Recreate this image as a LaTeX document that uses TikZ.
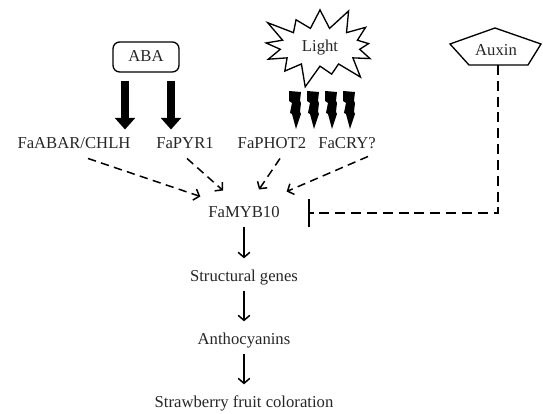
\documentclass[tikz,border=0pt]{standalone}
\usepackage{fontspec}
\setmainfont{Liberation Serif}
\usetikzlibrary{calc, positioning}
\usetikzlibrary{arrows.meta}
\usetikzlibrary{shapes.symbols}

\tikzset{
  gene/.style={font=\fontsize{10}{12}\selectfont, text=black!85,
    inner sep=1pt, text height=7pt, text depth=2pt},
  dasharrow/.style={line width=0.9pt, dash pattern=on 5pt off 3.2pt,
    -{Straight Barb[length=3pt,width=7pt,line width=0.9pt]}},
  steparrow/.style={line width=0.9pt, shorten <=2.5pt, shorten >=5.5pt,
    -{Straight Barb[length=3pt,width=7pt,line width=0.9pt]}},
  thickarrow/.style={line width=4.5pt, -{Triangle[width=12pt,length=7pt]}},
  inhibit/.style={line width=0.9pt, dash pattern=on 6pt off 3.5pt,
    -{Bar[width=17pt,line width=1.5pt]}},
  bolt/.pic={
    \fill (-6,0) -- (6,1) -- (5,10) -- (6,12) -- (5,21) -- (6,23)
      -- (1,38) -- (-3,23) -- (-5,22) -- (-3,12) -- (-6,10) -- cycle;
  }
}

\begin{document}
\begin{tikzpicture}[x=0.6pt,y=-0.6pt]
\useasboundingbox (0,0) rectangle (543,414);

% Signals
\node[gene, draw, rounded corners=4pt, line width=0.8pt,
  minimum width=39.6pt, minimum height=18pt] (aba) at (146,57) {ABA};
\node[gene, draw, starburst, starburst points=13, starburst point height=15pt,
  line width=0.8pt, minimum width=78pt, minimum height=53pt] (light) at (320,47) {Light};
\node[gene] (auxin) at (496,51) {Auxin};
\draw[line width=0.8pt] ($(auxin)+(-1,-23)$) -- ($(auxin)+(-46,-7)$)
  -- ($(auxin)+(-27,14)$) -- ($(auxin)+(32,14)$) -- ($(auxin)+(45,-7)$) -- cycle;
\coordinate (auxB) at ($(auxin)+(2,14)$);

% Receptors
\node[gene] (abar) at (74,144) {FaABAR/CHLH};
\node[gene] (pyr) at (185,144) {FaPYR1};
\node[gene] (phot) at (272,144) {FaPHOT2};
\node[gene] (cry) at (347,144) {FaCRY?};

% Pathway
\node[gene] (myb) at (244,213) {FaMYB10};
\node[gene] (struct) at (244,277) {Structural genes};
\node[gene] (antho) at (244,340) {Anthocyanins};
\node[gene] (straw) at (244,403) {Strawberry fruit coloration};

% ABA and light input
\draw[thickarrow] ($(aba.south)+(-21,8)$) -- ($(abar.north -| aba.south)+(-21,-5)$);
\draw[thickarrow] ($(aba.south)+(25,8)$) -- ($(pyr.north -| aba.south)+(25,-5)$);
\foreach \dx in {-25,-7,11,29}
  \pic at ($(light.center)+(\dx,44)$) {bolt};

% Receptors to FaMYB10
\draw[dasharrow] ($(abar.south)+(14,5)$) -- ($(myb.north west)+(-6,-7)$);
\draw[dasharrow] ($(pyr.south)+(2,5)$) -- ($(myb.north)+(-21,-13)$);
\draw[dasharrow] ($(phot.south)+(8,5)$) -- ($(myb.north)+(15,-14)$);
\draw[dasharrow] ($(cry.south)+(21,3)$) -- ($(myb.north east)+(5,-12)$);

% Auxin repression
\draw[inhibit] (auxB) |- ($(myb.east)+(26,0)$);

% Downstream
\draw[steparrow] (myb) -- (struct);
\draw[steparrow] (struct) -- (antho);
\draw[steparrow] (antho) -- (straw);
\end{tikzpicture}
\end{document}
